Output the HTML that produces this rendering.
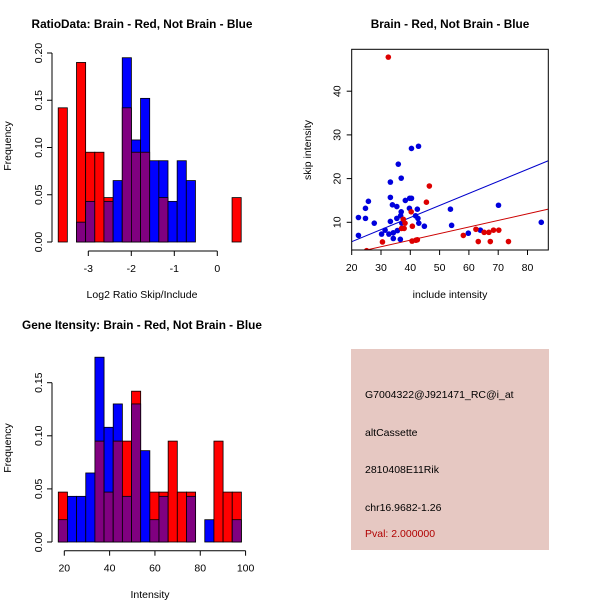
<!DOCTYPE html>
<html><head><meta charset="utf-8"><style>
body{margin:0;background:#fff;}
svg{display:block;font-family:"Liberation Sans",sans-serif;}
</style></head><body>
<svg id="c" width="600" height="600" xmlns="http://www.w3.org/2000/svg">
<rect width="600" height="600" fill="#fff"/>
<text x="142" y="28" text-anchor="middle" font-size="11.8" font-weight="bold">RatioData: Brain - Red, Not Brain - Blue</text>
<text x="142" y="298" text-anchor="middle" font-size="10.5">Log2 Ratio Skip/Include</text>
<text transform="translate(11,146) rotate(-90)" text-anchor="middle" font-size="10.5">Frequency</text>
<text x="450" y="28" text-anchor="middle" font-size="11.8" font-weight="bold">Brain - Red, Not Brain - Blue</text>
<text x="450" y="298" text-anchor="middle" font-size="10.5">include intensity</text>
<text transform="translate(311,150) rotate(-90)" text-anchor="middle" font-size="10.5">skip intensity</text>
<text x="142" y="329" text-anchor="middle" font-size="11.8" font-weight="bold">Gene Itensity: Brain - Red, Not Brain - Blue</text>
<text x="150" y="598" text-anchor="middle" font-size="10.5">Intensity</text>
<text transform="translate(11,448) rotate(-90)" text-anchor="middle" font-size="10.5">Frequency</text>
<g>
<rect x="351" y="349" width="198" height="201" fill="#e6c8c2"/>
<text x="365" y="398" font-size="10.5">G7004322@J921471_RC@i_at</text>
<text x="365" y="436" font-size="10.5">altCassette</text>
<text x="365" y="473" font-size="10.5">2810408E11Rik</text>
<text x="365" y="511" font-size="10.5">chr16.9682-1.26</text>
<text x="365" y="537" font-size="10.5" fill="#b00000">Pval: 2.000000</text>
</g>
</svg>
<script>
const ratioRed=[0.142,0,0.19,0.095,0.095,0.047,0,0.142,0.095,0.095,0,0.047,0,0,0,0,0,0,0,0.047];
const ratioBlue=[0,0,0.021,0.043,0,0.043,0.065,0.195,0.108,0.152,0.086,0.086,0.043,0.086,0.065,0,0,0,0,0];
const ratioBinStart=-3.70, ratioBinWidth=0.2128;
const ratioXTicks=[-3,-2,-1,0];
const ratioYTicks=["0.00","0.05","0.10","0.15","0.20"];
const intRed=[0.047,0,0,0,0.095,0.047,0.095,0.095,0.142,0,0.047,0.047,0.095,0.047,0.047,0,0,0.095,0.047,0.047];
const intBlue=[0.021,0.043,0.043,0.065,0.174,0.108,0.13,0.043,0.13,0.086,0.021,0.043,0,0,0.043,0,0.021,0,0,0.021];
const intBinStart=17.35, intBinWidth=4.04;
const intXTicks=[20,40,60,80,100];
const intYTicks=["0.00","0.05","0.10","0.15"];
const redX=[32.5,46.5,45.5,40.3,40.7,37.6,38.2,37.0,37.9,30.5,40.6,41.9,42.4,58.1,62.4,63.2,65.2,66.8,68.4,70.2,67.3,73.5,25.1];
const redY=[47.8,18.3,14.6,12.4,9.1,10.7,9.8,8.6,8.6,5.5,5.7,5.9,6.0,7.0,8.4,5.6,7.7,7.7,8.2,8.2,5.6,5.6,3.5];
const blueX=[22.3,22.3,24.7,24.7,25.7,27.7,30.2,31.4,32.7,33.2,33.2,33.2,33.9,34.2,34.2,35.4,35.4,35.6,35.9,36.7,36.9,36.9,36.6,37.1,37.6,38.3,39.7,39.8,40.4,40.4,42.8,42.4,41.8,42.6,42.9,44.8,53.7,54.1,59.8,63.9,70.1,84.7];
const blueY=[11.1,7.0,13.2,10.9,14.8,9.8,7.3,8.2,7.3,19.2,15.7,10.2,14.0,7.6,6.3,13.6,10.9,8.1,23.3,11.5,20.1,12.4,6.1,9.8,9.9,15.0,13.2,15.5,15.5,26.9,27.4,13.0,11.5,10.9,9.8,9.1,13.0,9.3,7.5,8.2,13.9,10.0];
const redFit=[-0.11,0.1506];
const blueFit=[0.05,0.276];
const scXTicks=[20,30,40,50,60,70,80];
const scYTicks=[10,20,30,40];

const svg=document.getElementById('c');
const NS='http://www.w3.org/2000/svg';
function mk(tag,attrs,parent){const e=document.createElementNS(NS,tag);for(const k in attrs)e.setAttribute(k,attrs[k]);(parent||svg).appendChild(e);return e;}

function hist(red,blue,binStart,binW,sx,sy,name){
  const g=mk('g',{});
  
  
  for(let i=0;i<red.length;i++){
    const x0=sx(binStart+i*binW), x1=sx(binStart+(i+1)*binW);
    const hi=Math.max(red[i],blue[i]), lo=Math.min(red[i],blue[i]);
    if(hi>0){
      const r=mk('rect',{x:x0,y:sy(hi),width:x1-x0,height:sy(0)-sy(hi),fill:red[i]>=blue[i]?'#ff0000':'#0000ff',stroke:'#000','stroke-width':0.8},g);
      
      
    }
    if(lo>0){
      const p=mk('rect',{x:x0,y:sy(lo),width:x1-x0,height:sy(0)-sy(lo),fill:'#800080',stroke:'#000','stroke-width':0.8},g);
      
      
    }
  }
}
function yaxis(ticks,x,sy,name){
  const g=mk('g',{});
  
  
  const vals=ticks.map(Number);
  mk('line',{x1:x,x2:x,y1:sy(vals[0]),y2:sy(vals[vals.length-1]),stroke:'#000'},g);
  ticks.forEach(t=>{const y=sy(Number(t));
    mk('line',{x1:x-5,x2:x,y1:y,y2:y,stroke:'#000'},g);
    const tx=mk('text',{transform:`translate(${x-10},${y}) rotate(-90)`,'text-anchor':'middle','font-size':10.5},g);tx.textContent=t;});
}
function xaxis(ticks,y,sx,name){
  const g=mk('g',{});
  
  
  mk('line',{x1:sx(ticks[0]),x2:sx(ticks[ticks.length-1]),y1:y,y2:y,stroke:'#000'},g);
  ticks.forEach(t=>{const x=sx(t);
    mk('line',{x1:x,x2:x,y1:y,y2:y+5,stroke:'#000'},g);
    const tx=mk('text',{x:x,y:y+21,'text-anchor':'middle','font-size':10.5},g);tx.textContent=String(t);});
}
// ratio hist
{const sx=v=>88.3+(v+3)*43, sy=v=>242-v/0.05*47.25;
 hist(ratioRed,ratioBlue,ratioBinStart,ratioBinWidth,sx,sy,'ratio');
 yaxis(ratioYTicks,52,sy,'ratio-y-axis');
 xaxis(ratioXTicks,251,sx,'ratio-x-axis');}
// intensity hist
{const sx=v=>64.3+(v-20)*2.266, sy=v=>542-v/0.05*53.1;
 hist(intRed,intBlue,intBinStart,intBinWidth,sx,sy,'intensity');
 yaxis(intYTicks,52,sy,'intensity-y-axis');
 xaxis(intXTicks,550.7,sx,'intensity-x-axis');}
// scatter
{const sx=v=>351.7+(v-20)*2.93, sy=v=>222.3-(v-10)*4.37;
 const L=351.7,R=548.3,T=49.3,B=250;
 const clip=mk('clipPath',{id:'sc'});mk('rect',{x:L,y:T,width:R-L,height:B-T},clip);
 const g=mk('g',{'clip-path':'url(#sc)'});
 
 
 const xa=20,xb=87.1;
 const bl=mk('line',{x1:sx(xa),y1:sy(blueFit[0]+blueFit[1]*xa),x2:sx(xb),y2:sy(blueFit[0]+blueFit[1]*xb),stroke:'#0000cc','stroke-width':1},g);
 
 
 const rl=mk('line',{x1:sx(xa),y1:sy(redFit[0]+redFit[1]*xa),x2:sx(xb),y2:sy(redFit[0]+redFit[1]*xb),stroke:'#cc0000','stroke-width':1},g);
 
 
 blueX.forEach((x,i)=>{const c=mk('circle',{cx:sx(x),cy:sy(blueY[i]),r:2.8,fill:'#0000dd'},g);
   
   });
 redX.forEach((x,i)=>{const c=mk('circle',{cx:sx(x),cy:sy(redY[i]),r:2.8,fill:'#dd0000'},g);
   
   });
 const box=mk('rect',{x:L,y:T,width:R-L,height:B-T,fill:'none',stroke:'#000'});
 
 
 xaxis(scXTicks,B,sx,'scatter-x-axis');
 const yg=mk('g',{});
 
 
 scYTicks.forEach(t=>{const y=sy(t);mk('line',{x1:L-5,x2:L,y1:y,y2:y,stroke:'#000'},yg);
   const tx=mk('text',{transform:`translate(${L-11},${y}) rotate(-90)`,'text-anchor':'middle','font-size':10.5},yg);tx.textContent=t;});}
</script>
</body></html>
